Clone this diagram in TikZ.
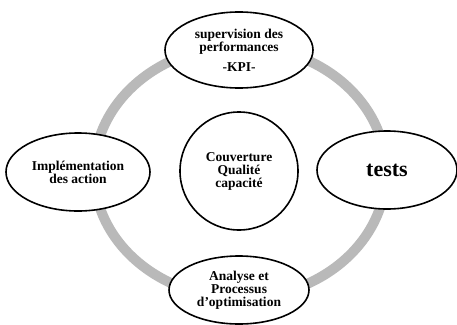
\documentclass[tikz,border=0pt]{standalone}
\usepackage{fontspec}
\setmainfont{Liberation Serif}
\usetikzlibrary{shapes.geometric}
\begin{document}
\begin{tikzpicture}[x=1pt,y=-1pt,
  bubble/.style={draw=black,line width=1.6pt,fill=white,ellipse,inner sep=0pt,align=center,
    font=\fontsize{13.5}{13}\selectfont\bfseries},
  ring/.style={draw=gray!55,line width=10pt}]
\useasboundingbox (0,0) rectangle (457,324);
\fill[white] (0,0) rectangle (457,324);
\coordinate (c) at (240,172);
\draw[ring] (c) ellipse [x radius=146pt, y radius=126pt];
\node[bubble,minimum width=148pt,minimum height=76pt] (top) at (239,50)
  {supervision des\\performances\\[7pt]-KPI-};
\node[bubble,minimum width=144pt,minimum height=78pt] (left) at (78,172)
  {Implémentation\\des action};
\node[bubble,minimum width=140pt,minimum height=78pt,font=\fontsize{22}{22}\selectfont\bfseries] (right) at (387,170)
  {tests};
\node[bubble,minimum width=140pt,minimum height=68pt] (bottom) at (239,290)
  {Analyse et\\Processus\\d'optimisation};
\node[bubble,circle,minimum size=118pt] (center) at (239,171)
  {Couverture\\Qualité\\capacité};
\end{tikzpicture}
\end{document}
